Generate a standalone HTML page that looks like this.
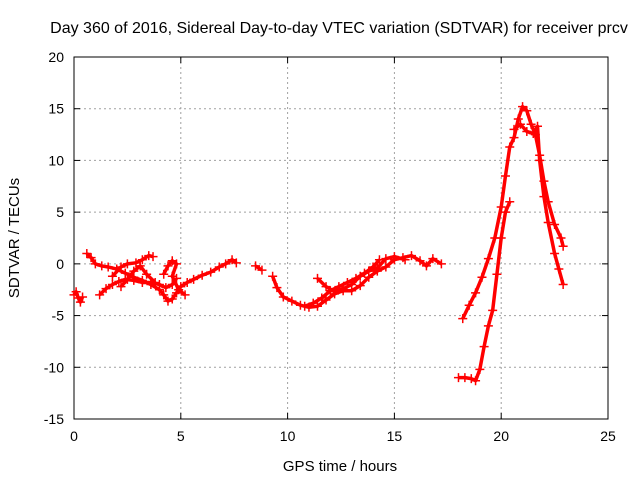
<!DOCTYPE html>
<html><head><meta charset="utf-8"><style>
body{margin:0;background:#fff;}
svg{display:block;font-family:"Liberation Sans",sans-serif;}
</style></head><body>
<svg id="chart" width="640" height="480" viewBox="0 0 640 480">
<rect width="640" height="480" fill="#fff"/>
<text x="339" y="33" font-size="16" text-anchor="middle">Day 360 of 2016, Sidereal Day-to-day VTEC variation (SDTVAR) for receiver prcv</text>
<g id="grid"></g>
<g id="axes"></g>
<g id="series"></g>
<text x="340" y="471" font-size="15" text-anchor="middle">GPS time / hours</text>
<text transform="translate(19,238) rotate(-90)" font-size="15" text-anchor="middle">SDTVAR / TECUs</text>
</svg>
<script>
const xTicks=[0,5,10,15,20,25];
const yTicks=[-15,-10,-5,0,5,10,15,20];
const trackA=[[0,-3],[0.1,-2.7],[0.2,-3.3],[0.3,-3.7],[0.4,-3.2]];
const trackB=[[0.6,1],[0.8,0.6],[1,0],[1.3,-0.2],[1.6,-0.3],[2,-0.5],[2.4,-0.9],[2.8,-1.3],[3.2,-1.6],[3.6,-2],[4,-2.5],[4.2,-3],[4.4,-3.6],[4.6,-3.4],[4.8,-2.8],[5,-2.2],[5.3,-1.8],[5.6,-1.5],[6,-1.1],[6.4,-0.8],[6.8,-0.3],[7.1,0],[7.4,0.4],[7.6,0.1]];
const trackC=[[1.2,-3],[1.5,-2.4],[1.8,-2],[2.1,-1.7],[2.4,-1.5],[2.8,-1.6],[3.2,-1.8],[3.6,-1.8],[4,-2],[4.3,-2.3],[4.6,-2],[4.8,-1.4]];
const trackD=[[1.8,-1.2],[2.2,-0.3],[2.5,0],[2.9,0.1],[3.2,0.4],[3.5,0.8],[3.7,0.7]];
const trackE=[[2.2,-2.2],[2.5,-1.5],[2.8,-0.7],[3.1,-0.2],[3.4,-1],[3.8,-1.8]];
const trackF=[[4.2,-1],[4.4,-0.2],[4.6,0.3],[4.8,0],[4.6,-1.2],[4.9,-2.5],[5.2,-3]];
const trackG=[[8.5,-0.2],[8.8,-0.6]];
const trackH=[[9.3,-1.2],[9.5,-2.3],[9.8,-3.2],[10.2,-3.6],[10.6,-4],[11,-4.2],[11.4,-4.1],[11.8,-3.5],[12.2,-2.9],[12.6,-2.6],[13,-2.6],[13.4,-2.1],[13.8,-1.3],[14.2,-0.7],[14.6,-0.3],[15,0.4],[15.4,0.6],[15.8,0.8],[16.2,0.3],[16.5,-0.2],[16.8,0.5],[17.2,0]];
const trackI=[[11.4,-1.4],[11.8,-2.2],[12.2,-2.7],[12.6,-2.4],[13,-2],[13.4,-1.2],[13.8,-0.7],[14.2,-0.4],[14.6,0.5],[15,0.7],[15.5,0.4]];
const trackJ=[[10.8,-4.1],[11.2,-3.8],[11.6,-3.3],[12,-2.6],[12.4,-2.2],[12.8,-1.8],[13.2,-1.4],[13.6,-0.9],[14,-0.3],[14.3,0.4]];
const trackK=[[18,-11],[18.3,-11],[18.6,-11.1],[18.8,-11.3],[19,-10.2],[19.2,-8],[19.4,-6],[19.6,-4.5],[19.8,-1],[20,2.5],[20.2,5],[20.4,6]];
const trackL=[[18.2,-5.3],[18.5,-4],[18.8,-2.8],[19.1,-1.3],[19.4,0.5],[19.7,2.5],[20,5.5],[20.2,8.5],[20.4,11.3],[20.6,12.2],[20.8,14],[21,15.2],[21.2,14.8],[21.4,13.5],[21.6,12.5],[21.8,10.5],[22,8],[22.2,6],[22.5,3.8],[22.8,2.5],[22.9,1.7]];
const trackM=[[20.6,13],[20.9,13.5],[21.2,12.8],[21.5,12.6],[21.7,13.3],[21.8,10],[22,6.5],[22.2,4],[22.5,1],[22.7,-0.5],[22.9,-2]];
const tracks=[trackA,trackB,trackC,trackD,trackE,trackF,trackG,trackH,trackI,trackJ,trackK,trackL,trackM];

const NS='http://www.w3.org/2000/svg';
const L=74,R=608,T=57,B=419;
const xs=v=>L+(v-0)/(25-0)*(R-L);
const ys=v=>B-(v+15)/(35)*(B-T);
function mk(tag,attrs,parent){const e=document.createElementNS(NS,tag);for(const k in attrs)e.setAttribute(k,attrs[k]);parent.appendChild(e);return e;}
const grid=document.getElementById('grid'),axes=document.getElementById('axes'),series=document.getElementById('series');
xTicks.forEach(t=>{
  const x=xs(t);
  if(t>0&&t<25){const g=mk('line',{x1:x,y1:T,x2:x,y2:B,stroke:'#a0a0a0','stroke-dasharray':'2,3','stroke-width':1},grid);}
  mk('line',{x1:x,y1:B,x2:x,y2:B-6,stroke:'#000'},axes);mk('line',{x1:x,y1:T,x2:x,y2:T+6,stroke:'#000'},axes);
  const lb=mk('text',{x:x,y:B+22,'font-size':14,'text-anchor':'middle'},axes);lb.textContent=t;
  
});
yTicks.forEach(t=>{
  const y=ys(t);
  if(t>-15&&t<20){const g=mk('line',{x1:L,y1:y,x2:R,y2:y,stroke:'#a0a0a0','stroke-dasharray':'2,3','stroke-width':1},grid);}
  mk('line',{x1:L,y1:y,x2:L+6,y2:y,stroke:'#000'},axes);mk('line',{x1:R,y1:y,x2:R-6,y2:y,stroke:'#000'},axes);
  const lb=mk('text',{x:L-10,y:y+5,'font-size':14,'text-anchor':'end'},axes);lb.textContent=t;
  
});
const fr=mk('rect',{x:L,y:T,width:R-L,height:B-T,fill:'none',stroke:'#000'},axes);

tracks.forEach(tr=>{
  const pl=mk('polyline',{points:tr.map(p=>xs(p[0])+','+ys(p[1])).join(' '),fill:'none',stroke:'#f00','stroke-width':3.5,'stroke-linejoin':'round'},series);
  
  tr.forEach(p=>{
    const x=xs(p[0]),y=ys(p[1]);
    const m=mk('path',{d:`M${x-4.5},${y}H${x+4.5}M${x},${y-4.5}V${y+4.5}`,stroke:'#f00','stroke-width':1.5},series);
    
  });
});
</script>
</body></html>
